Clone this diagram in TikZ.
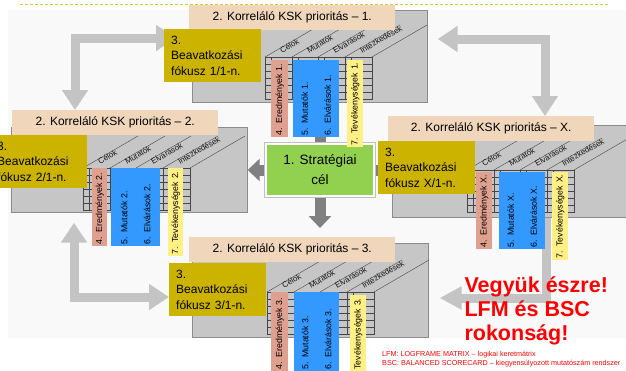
\documentclass[tikz,border=0pt]{standalone}
\usepackage{fontspec}
\setmainfont{Liberation Sans}
\usepackage{xcolor}
\usepackage{tikz}
\usetikzlibrary{arrows.meta,backgrounds}

\definecolor{szurke}{RGB}{198,198,198}
\definecolor{keret}{RGB}{140,140,140}
\definecolor{bezs}{RGB}{240,214,186}
\definecolor{olivsarga}{RGB}{204,179,0}
\definecolor{lazac}{RGB}{224,160,144}
\definecolor{kek}{RGB}{51,153,255}
\definecolor{halvanysarga}{RGB}{255,240,133}
\definecolor{zold}{RGB}{146,208,80}
\definecolor{nyilszurke}{RGB}{196,196,196}
\definecolor{sotetszurke}{RGB}{128,128,128}
\definecolor{hatter}{RGB}{249,249,249}
\definecolor{szaggatott}{RGB}{228,200,40}

% a 3D-s tablazat (LFM/BSC matrix) egy blokkon belul
\newcommand{\ksktabla}[2]{%
\draw[racs] (#1,#2) rectangle ++(107,42);
\foreach \s in {7,14,21,28,35} \draw[racs] (#1,#2+\s) -- ++(107,0);
\foreach \o in {6,27,33,53,59,80,86} \draw[racs] (#1+\o,#2) -- ++(0,42);
\foreach \o in {0,27,53,80,107} \draw[racs] (#1+\o,#2) -- ++(55,-32);
\node[fejlec] at (#1+17,#2-3) {Célok};
\node[fejlec] at (#1+44,#2-3) {Mutatók};
\node[fejlec] at (#1+70,#2-3) {Elvárások};
\node[fejlec] at (#1+97,#2-3) {Intézkedések};
}

\begin{document}
\begin{tikzpicture}[x=1pt,y=-1pt,
  matrixlap/.style={fill=szurke,draw=keret,line width=0.7pt,anchor=north west,inner sep=0pt},
  racs/.style={draw=gray!55!black,line width=0.4pt},
  fejlec/.style={anchor=south west,rotate=30,inner sep=0pt,text=gray!20!black,font=\fontsize{8}{9}\selectfont},
  cimke/.style={fill=bezs,anchor=north west,minimum width=206pt,minimum height=25pt,inner sep=0pt,font=\fontsize{12}{14}\selectfont},
  fokusz/.style={fill=olivsarga,anchor=north west,text width=83pt,minimum height=53pt,inner xsep=7pt,inner ysep=0pt,align=left,font=\fontsize{12}{15.5}\selectfont},
  csik/.style 2 args={rotate=90,anchor=north west,text width=#1,minimum height=#2,inner xsep=1.5pt,inner ysep=0pt,align=left,font=\fontsize{8.8}{23}\selectfont},
  strat/.style={fill=zold,draw=white,line width=2pt,preaction={draw=gray!50,line width=3.5pt},anchor=north west,minimum width=108pt,minimum height=52pt,align=center,font=\fontsize{13.5}{20}\selectfont},
  ciklus/.style={draw=nyilszurke,line width=9pt},
  sotet/.style={draw=sotetszurke,line width=11pt,-{Triangle[length=12pt 0 1,width=22pt 0 1]}},
  kettos/.style={{Triangle[length=20pt 0 1,width=25pt 0 1]}-{Triangle[length=20pt 0 1,width=25pt 0 1]}}]
\useasboundingbox (0,0) rectangle (626,370);

% szurke matrix lapok
\node[matrixlap,minimum width=235pt,minimum height=92pt] (g1) at (192,10) {};
\node[matrixlap,minimum width=236pt,minimum height=85pt] (g2) at (11,127) {};
\node[matrixlap,minimum width=250pt,minimum height=92pt] (gx) at (392,125) {};
\node[matrixlap,minimum width=236pt,minimum height=94pt] (g3) at (192,243) {};
\ksktabla{265}{57}
\ksktabla{83}{168}
\ksktabla{467}{170}
\ksktabla{267}{292}

% prioritasok
\node[cimke] (lab1) at (189,5) {2. Korreláló KSK prioritás – 1.};
\node[cimke] (lab2) at (12,110) {2. Korreláló KSK prioritás – 2.};
\node[cimke] (labx) at (388,116) {2. Korreláló KSK prioritás – X.};
\node[cimke] (lab3) at (189,237) {2. Korreláló KSK prioritás – 3.};

\node[fokusz] (fok1) at (164,29) {3.\\Beavatkozási\\fókusz 1/1-n.};
\node[fokusz] (fok2) at (-10,135) {3.\\Beavatkozási\\fókusz 2/1-n.};
\node[fokusz] (fokx) at (378,141) {3.\\Beavatkozási\\fókusz X/1-n.};
\node[fokusz] (fok3) at (169,263) {3.\\Beavatkozási\\fókusz 3/1-n.};

\node[strat] (cel) at (265,143) {1. Stratégiai\\cél};

% szines csikok
\node[csik={74pt}{17pt},fill=lazac] (er1) at (271,137) {4. Eredmények 1.};
\node[csik={74pt}{46pt},fill=kek] (mu1) at (293,137) {5. Mutatók 1.\\6. Elvárások 1.};
\node[csik={84pt}{16pt},fill=halvanysarga] (te1) at (347,147) {7. Tevékenységek 1.};
\node[csik={75pt}{15pt},fill=lazac] (er2) at (92,246) {4. Eredmények 2.};
\node[csik={75pt}{49pt},fill=kek] (mu2) at (111,246) {5. Mutatók 2.\\6. Elvárások 2.};
\node[csik={85pt}{15pt},fill=halvanysarga] (te2) at (168,256) {7. Tevékenységek 2.};
\node[csik={74pt}{16pt},fill=lazac] (erx) at (476,249) {4. Eredmények X.};
\node[csik={74pt}{46pt},fill=kek] (mux) at (499,249) {5. Mutatók X.\\6. Elvárások X.};
\node[csik={85pt}{16pt},fill=halvanysarga] (tex) at (552,260) {7. Tevékenységek X.};
\node[csik={76pt}{17pt},fill=lazac] (er3) at (271,371) {4. Eredmények 3.};
\node[csik={76pt}{45pt},fill=kek] (mu3) at (294,371) {5. Mutatók 3.\\6. Elvárások 3.};
\node[csik={85pt}{16pt},fill=halvanysarga] (te3) at (350,383) {7. Tevékenységek 3.};

\node[anchor=north west,align=left,text=red,font=\bfseries\fontsize{21.5}{24}\selectfont] (megj) at (461,273) {Vegyük észre!\\LFM és BSC\\rokonság!};
\node[anchor=north west,align=left,text=red,inner sep=1pt,font=\fontsize{7.2}{9}\selectfont] (rov) at (381,350) {LFM: LOGFRAME MATRIX – logikai keretmátrix\\BSC: BALANCED SCORECARD – kiegyensúlyozott mutatószám rendszer};

\begin{scope}[on background layer]
\fill[hatter] (8,10) rectangle (626,338);
\draw[szaggatott,line width=0.8pt,dash pattern=on 3pt off 2pt] (20,4) -- (610,4);
\coordinate (s1) at (75,38);
\coordinate (s2) at (545,39);
\coordinate (s3) at (74,297);
\coordinate (s4) at (546,298);
\draw[ciklus,kettos] (s1 |- lab2.north) -- (s1) -- ([xshift=12pt]s1 -| fok1.west);
\draw[ciklus,kettos] ([xshift=10pt]s2 -| g1.east) -- (s2) -- (s2 |- labx.north);
\draw[ciklus,kettos] ([yshift=-10pt]s3 |- g2.south) -- (s3) -- (s3 -| fok3.west);
\draw[ciklus,-{Triangle[length=22pt 0 1,width=22pt 0 1]}] ([yshift=5pt]s4 |- gx.south) -- (s4) -- ([xshift=11pt]s4 -| g3.east);
\draw[sotet] (cel.north) -- (cel.north |- g1.south);
\draw[sotet] (cel.south) -- ([yshift=9pt]cel.south |- lab3.north);
\draw[sotet] (cel.west) -- (cel.west -| g2.east);
\draw[sotet] (cel.east) -- ([xshift=14pt]cel.east -| fokx.west);
\end{scope}
\end{tikzpicture}
\end{document}
